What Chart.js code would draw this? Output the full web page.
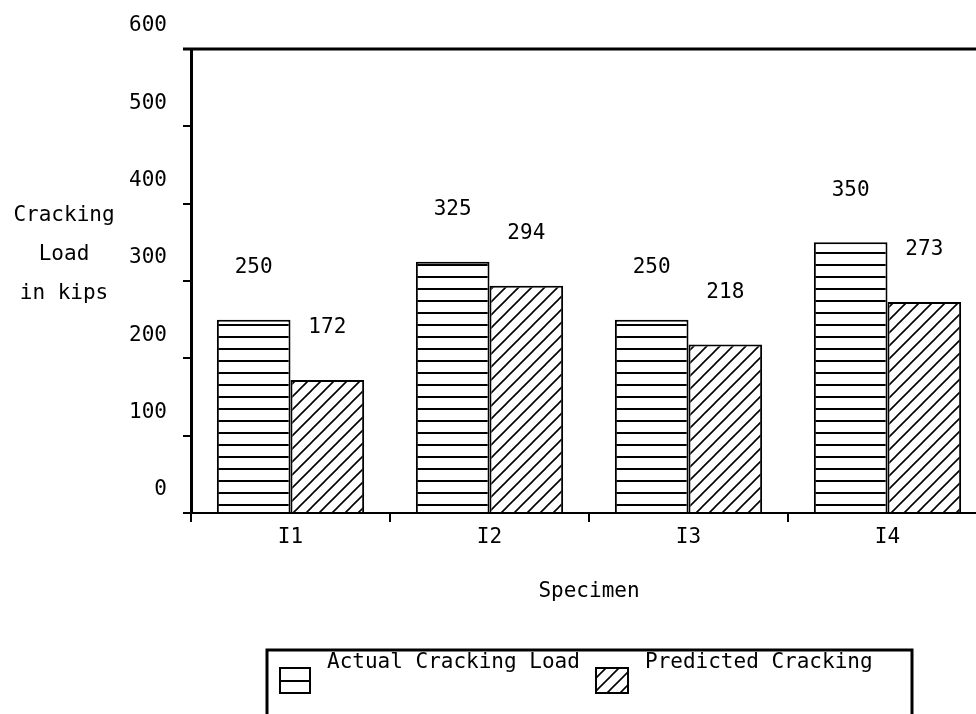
<!DOCTYPE html>
<html>
<head>
<meta charset="utf-8">
<title>Cracking Load by Specimen</title>
<script src="https://cdn.jsdelivr.net/npm/chart.js@4/dist/chart.umd.min.js"></script>
<style>
  html, body { margin: 0; padding: 0; background: #fff; overflow: hidden; }
  canvas { display: block; }
</style>
</head>
<body>
<canvas id="loadChart" width="1000" height="714"></canvas>
<script>
// specimen data, loads in kips
const specimens = ['I1', 'I2', 'I3', 'I4'];
const actualLoad = [250, 325, 250, 350];
const predictedLoad = [172, 294, 218, 273];
const seriesNames = ['Actual Cracking Load', 'Predicted Cracking'];
const yTitleLines = ['Cracking', 'Load', 'in kips'];
const xTitle = 'Specimen';

const FONT = '"DejaVu Sans Mono", "Liberation Mono", monospace';

// horizontal stripes
function stripePattern() {
    const c = document.createElement('canvas');
    c.width = 12; c.height = 12;
    const g = c.getContext('2d');
    g.fillStyle = '#fff';
    g.fillRect(0, 0, 12, 12);
    g.strokeStyle = '#000';
    g.lineWidth = 2;
    g.beginPath();
    g.moveTo(0, 1); g.lineTo(12, 1);
    g.stroke();
    return g.createPattern(c, 'repeat');
}

// "/" hatching
function hatchPattern() {
    const s = 13;
    const c = document.createElement('canvas');
    c.width = s; c.height = s;
    const g = c.getContext('2d');
    g.fillStyle = '#fff';
    g.fillRect(0, 0, s, s);
    g.strokeStyle = '#000';
    g.lineWidth = 1.6;
    g.beginPath();
    g.moveTo(-2, s + 2); g.lineTo(s + 2, -2);
    g.moveTo(-2, 2); g.lineTo(2, -2);
    g.moveTo(s - 2, s + 2); g.lineTo(s + 2, s - 2);
    g.stroke();
    return g.createPattern(c, 'repeat');
}

const stripes = stripePattern();
const hatch = hatchPattern();

// value labels, frame line, axis titles and the boxed legend
const decorations = {
    id: 'decorations',
    afterDatasetsDraw(chart) {
        const ctx = chart.ctx;
        const area = chart.chartArea;
        ctx.save();
        ctx.fillStyle = '#000';
        ctx.strokeStyle = '#000';
        ctx.font = '21px ' + FONT;
        ctx.textAlign = 'center';
        ctx.textBaseline = 'middle';

        chart.data.datasets.forEach((ds, i) => {
            chart.getDatasetMeta(i).data.forEach((bar, j) => {
                ctx.fillText(String(ds.data[j]), bar.x, bar.y - 52);
            });
        });

        // top frame line
        ctx.lineWidth = 3;
        ctx.beginPath();
        ctx.moveTo(area.left - 8, area.top);
        ctx.lineTo(chart.width, area.top);
        ctx.stroke();

        // y title, horizontal lines
        yTitleLines.forEach((t, k) => ctx.fillText(t, 64, 216 + k * 39));

        // x title
        ctx.fillText(xTitle, (area.left + area.right) / 2, 592);

        // legend box
        ctx.lineWidth = 3;
        ctx.beginPath();
        ctx.moveTo(267, 714); ctx.lineTo(267, 650); ctx.lineTo(912, 650); ctx.lineTo(912, 714);
        ctx.stroke();

        const icons = [{x: 280, w: 30}, {x: 596, w: 32}];
        chart.data.datasets.forEach((ds, i) => {
            const ic = icons[i];
            ctx.lineWidth = 2;
            if (i === 0) {
                ctx.fillStyle = '#fff';
                ctx.fillRect(ic.x, 668, ic.w, 25);
                ctx.beginPath();
                ctx.moveTo(ic.x, 681); ctx.lineTo(ic.x + ic.w, 681);
                ctx.stroke();
            } else {
                ctx.fillStyle = ds.backgroundColor;
                ctx.fillRect(ic.x, 668, ic.w, 25);
            }
            ctx.strokeRect(ic.x, 668, ic.w, 25);
            ctx.fillStyle = '#000';
            ctx.textAlign = 'left';
            ctx.textBaseline = 'alphabetic';
            ctx.fillText(ds.label, ic.x + ic.w + 17, 668);
        });
        ctx.restore();
    }
};

new Chart(document.getElementById('loadChart'), {
    type: 'bar',
    data: {
        labels: specimens,
        datasets: [
            {
                label: seriesNames[0],
                data: actualLoad,
                backgroundColor: stripes,
                borderColor: '#000',
                borderWidth: 2
            },
            {
                label: seriesNames[1],
                data: predictedLoad,
                backgroundColor: hatch,
                borderColor: '#000',
                borderWidth: 2
            }
        ]
    },
    options: {
        responsive: false,
        animation: false,
        categoryPercentage: 0.74,
        barPercentage: 1.0,
        layout: { padding: { left: 0, top: 49, right: 13, bottom: 0 } },
        plugins: {
            legend: { display: false },
            tooltip: { enabled: false }
        },
        scales: {
            x: {
                afterFit: s => { s.height = 714 - 513; },
                border: { display: true, color: '#000', width: 2 },
                grid: { offset: true, drawOnChartArea: false, color: '#000', lineWidth: 2, tickLength: 9 },
                ticks: { color: '#000', font: { family: FONT, size: 21 }, padding: 3 }
            },
            y: {
                min: 0,
                max: 600,
                afterFit: s => { s.width = 191; },
                border: { display: true, color: '#000', width: 3 },
                grid: { drawOnChartArea: false, color: '#000', lineWidth: 2, tickLength: 8 },
                ticks: {
                    stepSize: 100,
                    color: '#000',
                    font: { family: FONT, size: 21 },
                    padding: 16,
                    labelOffset: -23
                }
            }
        }
    },
    plugins: [decorations]
});
</script>
</body>
</html>
